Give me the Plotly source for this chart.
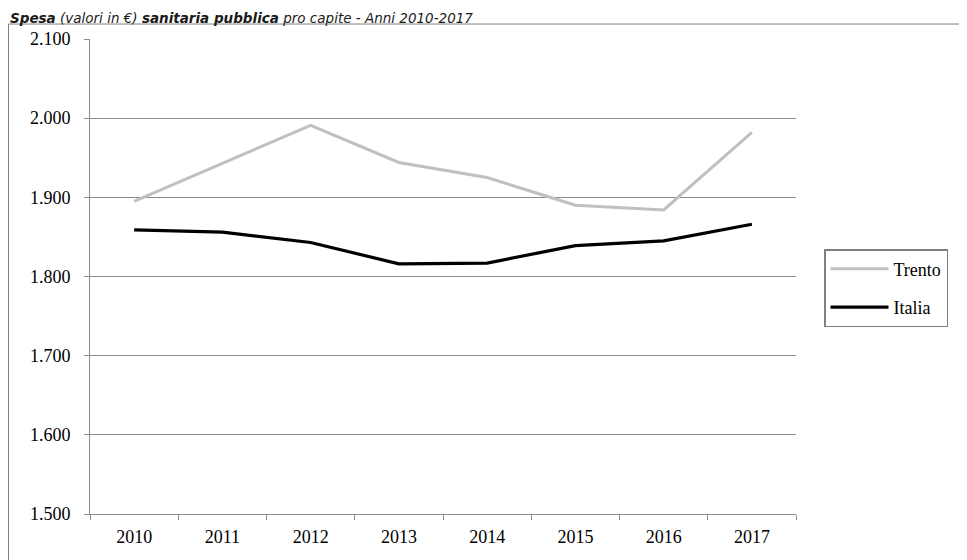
import plotly.graph_objects as go

# Data
years = ["2010", "2011", "2012", "2013", "2014", "2015", "2016", "2017"]
trento = [1895, 1943, 1991, 1944, 1925, 1890, 1884, 1982]
italia = [1859, 1856, 1843, 1816, 1817, 1839, 1845, 1866]

# page body has an 8px margin, so the figure starts at (8, 8) in the window
W, H = 959, 552
PL, PR, PT, PB = 82, 788, 30.5, 506.5   # plot area, figure pixels

def px_x(p):
    return (p - PL) / (PR - PL)

def px_y(p):
    return (PB - p) / (PB - PT)

SERIF = "Liberation Serif, Times New Roman, serif"
GRID = "#8c8c8c"

fig = go.Figure()
fig.add_trace(go.Scatter(x=years, y=trento, name="Trento", mode="lines",
                         legendgroup="t", line=dict(color="#c0c0c0", width=3)))
fig.add_trace(go.Scatter(x=years, y=italia, name="Italia", mode="lines",
                         legendgroup="i", line=dict(color="#000000", width=3.2)))

fig.update_layout(
    width=W, height=H,
    margin=dict(l=PL, r=W - PR, t=PT, b=H - PB, autoexpand=False),
    paper_bgcolor="white", plot_bgcolor="white",
    separators=",.",
    font=dict(family=SERIF, size=18, color="#000000"),
    showlegend=True,
    legend=dict(x=px_x(816), y=px_y(241), xanchor="left", yanchor="top",
                bordercolor="#7f7f7f", borderwidth=1.5, bgcolor="white",
                font=dict(family=SERIF, size=18, color="#000000"),
                tracegroupgap=12, itemwidth=58),
    xaxis=dict(type="category", showgrid=False, showline=True, linecolor=GRID,
               linewidth=1, ticks="outside", ticklen=5, tickcolor=GRID,
               tickson="boundaries", range=[-0.5, 7.5], ticklabelstandoff=6),
    yaxis=dict(range=[1500, 2100], dtick=100, tickformat=",d",
               showgrid=True, gridcolor=GRID, gridwidth=1,
               showline=True, linecolor=GRID, linewidth=1,
               ticks="outside", ticklen=5, tickcolor=GRID, zeroline=False,
               ticklabelstandoff=10),
)

# outer chart frame (runs off the page at right and bottom)
fig.add_shape(type="rect", xref="paper", yref="paper",
              x0=px_x(0.5), x1=px_x(W + 20), y0=px_y(H + 20), y1=px_y(15.5),
              line=dict(color="#7f7f7f", width=1), layer="below")

# title
fig.add_annotation(
    xref="paper", yref="paper", x=px_x(0), y=px_y(-1),
    xanchor="left", yanchor="top", showarrow=False,
    text="<b><i>Spesa</i></b> <i>(valori in €)</i> <b><i>sanitaria pubblica</i></b>"
         " <i>pro capite - Anni 2010-2017</i>",
    font=dict(family="DejaVu Sans, Verdana, sans-serif", size=13.5, color="#1a1a1a"),
)

fig.write_html("out.html")
